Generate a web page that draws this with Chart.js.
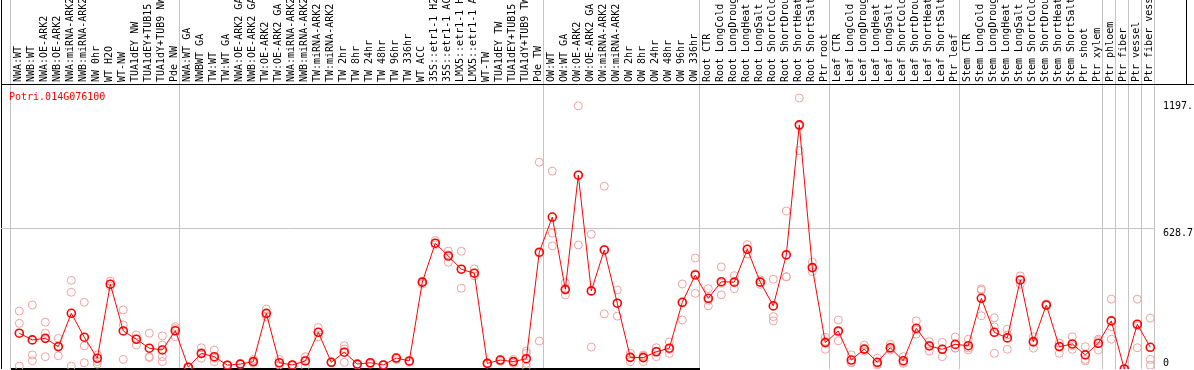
<!DOCTYPE html>
<html>
<head>
<meta charset="utf-8">
<script src="https://cdn.jsdelivr.net/npm/chart.js@4.4.1/dist/chart.umd.min.js"></script>
<style>
  body { margin: 0; background: #fff; }
  canvas { display: block; }
</style>
</head>
<body>
<canvas id="js--chart" width="1194" height="370"></canvas>
<script>
const geneName = "Potri.014G076100";

const categories = [
    "NWA:WT", "NWB:WT", "NWA:OE-ARK2", "NWB:OE-ARK2", "NWA:miRNA-ARK2", "NWB:miRNA-ARK2",
    "NW 0hr", "WT H2O", "WT-NW", "TUA1dEY NW", "TUA1dEY+TUB15 NW", "TUA1dY+TUB9 NW", "Pde NW",
    "NWA:WT GA", "NWBWT GA", "TW:WT", "TW:WT GA", "NWA:OE-ARK2 GA", "NWB:OE-ARK2 GA",
    "TW:OE-ARK2", "TW:OE-ARK2 GA", "NWA:miRNA-ARK2 GA", "NWB:miRNA-ARK2 GA", "TW:miRNA-ARK2",
    "TW:miRNA-ARK2 GA", "TW 2hr", "TW 8hr", "TW 24hr", "TW 48hr", "TW 96hr", "TW 336hr",
    "WT ACC", "35S::etr1-1 H2O", "35S::etr1-1 ACC", "LMX5::etr1-1 H2O", "LMX5::etr1-1 ACC",
    "WT-TW", "TUA1dEY TW", "TUA1dEY+TUB15 TW", "TUA1dY+TUB9 TW", "Pde TW",
    "OW:WT", "OW:WT GA", "OW:OE-ARK2", "OW:OE-ARK2 GA", "OW:miRNA-ARK2", "OW:miRNA-ARK2 GA",
    "OW 2hr", "OW 8hr", "OW 24hr", "OW 48hr", "OW 96hr", "OW 336hr",
    "Root CTR", "Root LongCold", "Root LongDrought", "Root LongHeat", "Root LongSalt",
    "Root ShortCold", "Root ShortDrought", "Root ShortHeat", "Root ShortSalt", "Ptr root",
    "Leaf CTR", "Leaf LongCold", "Leaf LongDrought", "Leaf LongHeat", "Leaf LongSalt",
    "Leaf ShortCold", "Leaf ShortDrought", "Leaf ShortHeat", "Leaf ShortSalt", "Ptr leaf",
    "Stem CTR", "Stem LongCold", "Stem LongDrought", "Stem LongHeat", "Stem LongSalt",
    "Stem ShortCold", "Stem ShortDrought", "Stem ShortHeat", "Stem ShortSalt",
    "Ptr shoot", "Ptr xylem", "Ptr phloem", "Ptr fiber", "Ptr vessel", "Ptr fiber vessel"
];

// last category index of each sample group (grey separators)
const groupEnds = [12, 40, 52, 62, 72, 83, 84, 85, 86, 87];

// mean expression per sample
const meanValues = [
    160, 130, 137, 100, 249, 142, 48, 379, 170, 133, 93, 85, 171,
    8, 70, 55, 17, 22, 33, 249, 28, 18, 36, 164, 30, 75, 22, 28, 18, 49, 36,
    388, 562, 505, 446, 428, 25, 40, 33, 46, 522,
    679, 356, 866, 349, 532, 294, 52, 51, 77, 93, 298, 420,
    316, 390, 388, 535, 388, 282, 510, 1091, 453, 118,
    170, 40, 89, 30, 95, 37, 182, 103, 88, 110,
    104, 316, 164, 139, 398, 121, 286, 100, 112, 63, 115,
    215, 0, 200, 97
];

// individual replicates per sample
const replicateValues = [
    [259, 204, 13], [286, 63, 37], [209, 160, 55], [137, 100, 59], [396, 343, 13],
    [298, 103, 28], [63, 33, 22], [393, 379, 370], [264, 197, 43], [152, 134, 107],
    [160, 55, 51], [148, 107, 55, 33], [189, 180, 144],
    [8, 5, 10], [95, 67, 48], [85, 48, 33], [17, 15, 19], [22, 20, 24], [43, 33, 25],
    [268, 245, 234], [43, 28, 18], [18, 18, 15], [55, 40, 10], [185, 164, 144],
    [30, 28, 32], [104, 90, 30], [22, 18, 20], [28, 22, 26], [18, 16, 20], [49, 42, 52],
    [36, 30, 34], [388, 380, 392], [574, 562, 554], [527, 510, 477], [526, 446, 361],
    [447, 428, 416], [25, 22, 28], [40, 34, 42], [43, 33, 25], [80, 70, 25, 10],
    [924, 517, 125],
    [884, 607, 550], [386, 352, 331], [1176, 868, 554], [602, 347, 98], [817, 533, 246],
    [353, 294, 236], [70, 52, 33], [58, 62, 33], [95, 80, 55], [121, 88, 70],
    [380, 295, 219], [496, 426, 338],
    [359, 307, 282], [456, 383, 331], [417, 388, 359], [556, 535, 514], [398, 388, 378],
    [401, 234, 215], [706, 412, 412], [1211, 1086, 976], [477, 453, 435], [142, 124, 88],
    [219, 165, 126], [63, 29, 28], [107, 89, 80], [48, 24, 18], [110, 90, 85],
    [55, 31, 25], [215, 175, 156], [122, 107, 80], [119, 90, 55], [143, 94, 93],
    [133, 94, 85], [352, 358, 238], [229, 188, 70], [177, 152, 88], [416, 398, 379],
    [144, 126, 93], [290, 284, 284], [115, 115, 70], [144, 104, 88], [100, 43, 36],
    [133, 127, 85],
    [312, 189, 133], [0, 0, 0], [312, 193, 95], [227, 43, 17]
];

const yTickValues = [0, 628.7, 1197];
const yTickLabels = ["0", "628.7", "1197."];

const xMin = -1.408;
const xMax = 87.362;
const yMax = 1273.5;
const gridGrey = "#c4c4c4";
const clear = "rgba(0,0,0,0)";
const fontFamily = "'DejaVu Sans Mono', 'Liberation Mono', monospace";
const monoFont = { family: fontFamily, size: 10, lineHeight: 1.1 };

const separators = [-1, ...groupEnds].map(i => i + 0.35);

const meanPoints = meanValues.map((v, i) => ({ x: i, y: v }));
const replicatePoints = [];
replicateValues.forEach((reps, i) => {
    reps.forEach(v => replicatePoints.push({ x: i, y: v }));
});

// gene name written inside the plot, top left
const geneLabel = {
    id: "geneLabel",
    afterDraw(chart) {
        const { ctx, chartArea } = chart;
        ctx.save();
        ctx.font = "10px " + fontFamily;
        ctx.fillStyle = "#ff0000";
        ctx.textBaseline = "middle";
        ctx.fillText(geneName, chartArea.left + 8, chartArea.top + 13);
        ctx.restore();
    }
};

// zero line is black only under the first three sample groups
const zeroLineColor = (chart) => {
    const sep = chart.scales.sep;
    const w = chart.width;
    const a = sep.getPixelForValue(separators[0]) / w;
    const b = sep.getPixelForValue(separators[3]) / w;
    const g = chart.ctx.createLinearGradient(0, 0, w, 0);
    g.addColorStop(0, clear);
    g.addColorStop(a, clear);
    g.addColorStop(a, "#000");
    g.addColorStop(b, "#000");
    g.addColorStop(b, clear);
    g.addColorStop(1, clear);
    return g;
};

const config = {
    type: "line",
    data: {
        datasets: [
            {
                label: geneName,
                data: meanPoints,
                xAxisID: "x",
                yAxisID: "y",
                borderColor: "#ff0000",
                borderWidth: 1,
                pointRadius: 4,
                pointBorderWidth: 1.6,
                pointBorderColor: "#ff0000",
                pointBackgroundColor: clear,
                tension: 0,
                order: 0
            },
            {
                label: "replicates",
                data: replicatePoints,
                xAxisID: "x",
                yAxisID: "y",
                showLine: false,
                pointRadius: 4,
                pointBorderWidth: 1,
                pointBorderColor: "#f0a0a0",
                pointBackgroundColor: clear,
                order: 1
            }
        ]
    },
    options: {
        responsive: false,
        animation: false,
        layout: { autoPadding: false, padding: { left: 1, right: 0, top: 0, bottom: 1 } },
        plugins: {
            legend: { display: false },
            tooltip: { enabled: false },
            title: { display: false }
        },
        scales: {
            x: {
                type: "linear",
                position: "top",
                weight: 1,
                min: xMin,
                max: xMax,
                afterBuildTicks: (scale) => {
                    scale.ticks = categories.map((c, i) => ({ value: i }));
                },
                afterFit: (scale) => {
                    scale.height = 84;
                    scale.paddingLeft = 0;
                    scale.paddingRight = 0;
                },
                ticks: {
                    autoSkip: false,
                    minRotation: 90,
                    maxRotation: 90,
                    padding: 2,
                    labelOffset: 10,
                    color: "#000",
                    font: monoFont,
                    callback: (value) => categories[value] ?? ""
                },
                grid: { display: false, drawTicks: false },
                border: { display: true, color: "#000", width: 1 }
            },
            sep: {
                type: "linear",
                position: "top",
                weight: 0,
                min: xMin,
                max: xMax,
                afterBuildTicks: (scale) => {
                    scale.ticks = [xMin, ...separators, xMax + 2.385].map(v => ({ value: v }));
                },
                afterFit: (scale) => {
                    scale.height = 0;
                    scale.paddingLeft = 0;
                    scale.paddingRight = 0;
                },
                ticks: { display: false },
                grid: {
                    drawTicks: true,
                    tickLength: 90,
                    lineWidth: 1,
                    color: (ctx) => {
                        if (!ctx.tick) return clear;
                        if (ctx.tick.value === xMin) return "#000";
                        if (ctx.tick.value > xMax + 1) return clear;
                        return gridGrey;
                    },
                    tickColor: (ctx) => {
                        if (!ctx.tick) return clear;
                        if (ctx.tick.value === xMin || ctx.tick.value > xMax + 1) return "#000";
                        return gridGrey;
                    }
                },
                border: { display: false }
            },
            y: {
                type: "linear",
                position: "right",
                min: 0,
                max: yMax,
                afterBuildTicks: (scale) => {
                    scale.ticks = [...yTickValues, yMax].map(v => ({ value: v }));
                },
                afterFit: (scale) => {
                    scale.width = 39;
                    scale.paddingTop = 0;
                    scale.paddingBottom = 0;
                },
                ticks: {
                    padding: -31,
                    color: "#000",
                    font: monoFont,
                    callback: (value) => {
                        const i = yTickValues.indexOf(value);
                        if (i < 0) return "";
                        return value === 0 ? [yTickLabels[i], ""] : ["", yTickLabels[i]];
                    }
                },
                grid: {
                    drawTicks: true,
                    tickLength: 39,
                    lineWidth: (ctx) => (ctx.tick && ctx.tick.value === 0) ? 2 : 1,
                    color: (ctx) => {
                        if (!ctx.tick) return clear;
                        if (ctx.tick.value === 628.7) return gridGrey;
                        if (ctx.tick.value === 0) return zeroLineColor(ctx.chart);
                        return clear;
                    },
                    tickColor: (ctx) => (ctx.tick && ctx.tick.value === yMax) ? "#000" : clear
                },
                border: { display: false }
            }
        }
    },
    plugins: [geneLabel]
};

const expressionChart = new Chart(document.getElementById("js--chart"), config);
</script>
</body>
</html>
